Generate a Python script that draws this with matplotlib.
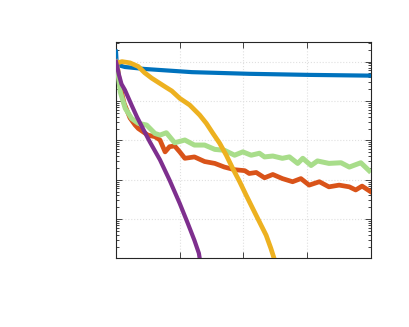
import numpy as np
import matplotlib.pyplot as plt

# values (x in axis units 0..4, y on log scale)
blue_x = [0.0, 0.01, 0.03, 0.14, 0.45, 1.19, 2.09, 3.03, 4.0]
blue_y = [1.8, 0.98, 0.82, 0.73, 0.65, 0.54, 0.49, 0.46, 0.44]

yellow_x = [0.0, 0.094, 0.22, 0.35, 0.45, 0.56, 0.77, 0.875, 1.0, 1.156, 1.3125,
            1.417, 1.52, 1.625, 1.73, 1.83, 1.94, 2.04, 2.145, 2.25, 2.355,
            2.43, 2.48, 2.52]
yellow_y = [0.91, 1.0, 0.93, 0.75, 0.52, 0.38, 0.23, 0.18, 0.117, 0.079, 0.044,
            0.0271, 0.0151, 0.0085, 0.0042, 0.00195, 8.9e-4, 4.1e-4, 1.86e-4,
            8.5e-5, 3.9e-5, 1.8e-5, 1.0e-5, 5.6e-6]

purple_x = [0.0, 0.047, 0.086, 0.14, 0.25, 0.33, 0.45, 0.53, 0.69, 0.84, 1.0,
            1.125, 1.23, 1.30, 1.33]
purple_y = [1.0, 0.46, 0.27, 0.19, 0.075, 0.039, 0.0163, 0.0092, 0.0032, 9.8e-4,
            2.5e-4, 7.9e-5, 2.9e-5, 1.36e-5, 6.7e-6]

green_x = [0.0, 0.03, 0.067, 0.145, 0.245, 0.35, 0.48, 0.61, 0.69, 0.79, 0.92,
           1.08, 1.23, 1.39, 1.55, 1.70, 1.86, 1.99, 2.12, 2.25, 2.33, 2.46,
           2.61, 2.72, 2.85, 2.93, 3.06, 3.16, 3.34, 3.53, 3.66, 3.84, 3.97]
green_y = [1.0, 0.55, 0.17, 0.065, 0.036, 0.027, 0.0245, 0.015, 0.0136, 0.0156,
           0.0087, 0.0102, 0.0076, 0.0076, 0.0059, 0.0056, 0.0042, 0.0051, 0.0042,
           0.0047, 0.0038, 0.0040, 0.0035, 0.0038, 0.0026, 0.0035, 0.0023, 0.0030,
           0.0026, 0.0027, 0.0021, 0.0027, 0.0017]

orange_x = [0.0, 0.03, 0.06, 0.125, 0.22, 0.30, 0.35, 0.50, 0.61, 0.69, 0.77,
            0.84, 0.92, 1.0, 1.08, 1.23, 1.39, 1.55, 1.70, 1.86, 2.02, 2.09,
            2.20, 2.33, 2.46, 2.61, 2.77, 2.90, 3.03, 3.19, 3.34, 3.5, 3.66,
            3.76, 3.86, 4.0]
orange_y = [1.0, 0.61, 0.26, 0.089, 0.037, 0.0245, 0.020, 0.0136, 0.0124, 0.0102,
            0.0051, 0.0069, 0.0072, 0.0051, 0.0035, 0.0038, 0.0029, 0.0026, 0.0021,
            0.0018, 0.0017, 0.00144, 0.00153, 0.00112, 0.00136, 0.00107, 8.9e-4,
            0.00107, 7.3e-4, 8.9e-4, 6.6e-4, 7.3e-4, 6.6e-4, 5.5e-4, 6.9e-4, 4.9e-4]

fig = plt.figure(figsize=(4.09, 3.27), dpi=100)
ax = fig.add_axes([0.2836, 0.2095, 0.6235, 0.6611])

ax.plot(blue_x, blue_y, color='#0072BD', lw=3.0, zorder=3)
ax.plot(orange_x, orange_y, color='#D95319', lw=3.4, zorder=4)
ax.plot(green_x, green_y, color='#A8DD8A', lw=3.6, zorder=5)
ax.plot(yellow_x, yellow_y, color='#EDB120', lw=3.4, zorder=6)
ax.plot(purple_x, purple_y, color='#7E2F8E', lw=3.0, zorder=7)

ax.set_yscale('log')
ax.set_xlim(0, 4)
ax.set_ylim(1e-5, 10 ** 0.49)
ax.set_xticks([0, 1, 2, 3, 4])
ax.set_yticks([1e-5, 1e-4, 1e-3, 1e-2, 1e-1, 1])
ax.set_xticklabels([])
ax.set_yticklabels([], minor=True)
ax.set_yticklabels([])

ax.grid(True, which='major', linestyle=':', color='#e0e0e0', lw=0.8)
ax.tick_params(which='both', direction='in', top=True, right=True,
               color='#262626', width=0.6)
ax.tick_params(which='major', length=4)
ax.tick_params(which='minor', length=2)
for s in ax.spines.values():
    s.set_color('#262626')
    s.set_linewidth(0.8)

plt.savefig('out.png', dpi=100)
